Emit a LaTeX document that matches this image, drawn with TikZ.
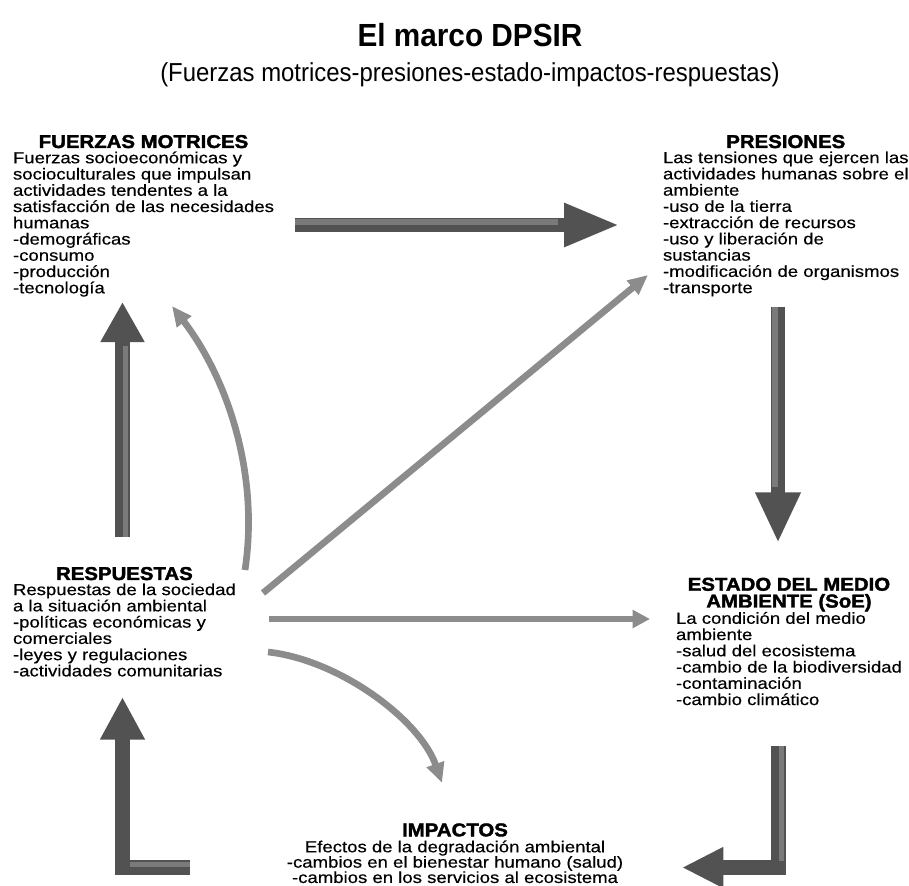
\documentclass[tikz,border=0pt]{standalone}
\usepackage{fontspec}
\setmainfont[FakeStretch=1.16,FakeBold=0.4]{Liberation Sans}
\newfontfamily\headfont[FakeStretch=1.1,FakeBold=2]{Liberation Sans Bold}
\newfontfamily\titlefont[FakeStretch=0.93]{Liberation Sans Bold}
\newfontfamily\subtitlefont[FakeStretch=0.92]{Liberation Sans}
\usetikzlibrary{arrows.meta,calc,positioning}
\lineskiplimit=-20pt

\begin{document}
\begin{tikzpicture}[
    x=0.75pt, y=-0.75pt,
    every node/.style={inner sep=0pt, outer sep=0pt},
    body/.style={align=left, font=\fontsize{12}{12.19}\selectfont},
    head/.style={align=center, font=\headfont\fontsize{13.9}{12.6}\selectfont},
    big arrow/.style={draw=black!68, line width=11pt, line join=miter},
    shine/.style={draw=black!52, line width=4pt},
    thin arrow/.style={draw=black!45, line width=5pt, -{Triangle[length=15pt,width=13pt]}},
  ]
  \useasboundingbox (0,0) rectangle (909,885);

  \node [anchor=base, font=\titlefont\fontsize{24}{24}\selectfont] (titulo) at (470,46) {El marco DPSIR};
  \node [anchor=base, font=\subtitlefont\fontsize{19.5}{19.5}\selectfont] (subtitulo) at (470,81) {(Fuerzas motrices-presiones-estado-impactos-respuestas)};

  \node [body, anchor=north west] (fuerzas) at (13,151.5) {Fuerzas socioeconómicas y\\socioculturales que impulsan\\actividades tendentes a la\\satisfacción de las necesidades\\humanas\\-demográficas\\-consumo\\-producción\\-tecnología};
  \node [head, above=2.5pt of fuerzas] (fuerzas-t) {FUERZAS MOTRICES};

  \node [body, anchor=north west] (presiones) at (663,151.5) {Las tensiones que ejercen las\\actividades humanas sobre el\\ambiente\\-uso de la tierra\\-extracción de recursos\\-uso y liberación de\\sustancias\\-modificación de organismos\\-transporte};
  \node [head, above=2.5pt of presiones] (presiones-t) {PRESIONES};

  \node [body, anchor=north west] (estado) at (676,612) {La condición del medio\\ambiente\\-salud del ecosistema\\-cambio de la biodiversidad\\-contaminación\\-cambio climático};
  \node [head, above=0.5pt of estado] (estado-t) {ESTADO DEL MEDIO\\AMBIENTE (SoE)};

  \node [body, anchor=north west] (respuestas) at (13,583.5) {Respuestas de la sociedad\\a la situación ambiental\\-políticas económicas y\\comerciales\\-leyes y regulaciones\\-actividades comunitarias};
  \node [head, above=2.5pt of respuestas] (respuestas-t) {RESPUESTAS};

  \node [body, align=center, anchor=north, font=\fontsize{12}{11.5}\selectfont] (impactos) at (455,840.5) {Efectos de la degradación ambiental\\-cambios en el bienestar humano (salud)\\-cambios en los servicios al ecosistema};
  \node [head, above=3pt of impactos] (impactos-t) {IMPACTOS};

  \coordinate (fp-a) at (295,225);
  \coordinate (fp-b) at (620,225);
  \coordinate (pe-a) at (778,307);
  \coordinate (pe-b) at (778,543);
  \coordinate (ei-a) at (778.5,746);
  \coordinate (ei-b) at (682,867.5);
  \coordinate (ir-a) at (190,867.5);
  \coordinate (ir-b) at (122.5,697);
  \coordinate (rf-a) at (122.5,537);
  \coordinate (rf-b) at (122.5,302);
  \coordinate (rc-a) at (245,570);
  \coordinate (rc-b) at (172,306);
  \coordinate (rp-a) at (263,593);
  \coordinate (rp-b) at (648,275);
  \coordinate (re-a) at (269,619);
  \coordinate (re-b) at (650,619);
  \coordinate (ri-a) at (268,652);
  \coordinate (ri-b) at (442,783);

  \draw [big arrow, -{Triangle[length=42pt,width=30pt]}] (fp-a) -- (fp-b);
  \draw [shine] ($(fp-a)+(0,-3)$) -- ($(fp-b)+(-62,-3)$);
  \draw [big arrow, -{Triangle[length=38pt,width=31.5pt]}] (pe-a) -- (pe-b);
  \draw [shine] ($(pe-a)+(-3,0)$) -- ($(pe-b)+(-3,-56)$);
  \draw [big arrow, -{Triangle[length=31pt,width=28.5pt]}] (ei-a) |- (ei-b);
  \draw [shine] ($(ei-a)+(3,0)$) -- ($(ei-a)+(3,115)$);
  \draw [big arrow, -{Triangle[length=32pt,width=31.5pt]}] (ir-a) -| (ir-b);
  \draw [shine] ($(ir-a)+(0,-3)$) -- ($(ir-a)+(-60,-3)$);
  \draw [big arrow, -{Triangle[length=30pt,width=31pt]}] (rf-a) -- (rf-b);
  \draw [shine] ($(rf-a)+(3,0)$) -- ($(rf-b)+(3,44)$);

  \draw [thin arrow] (rc-a) .. controls (260,470) and (225,375) .. (rc-b);
  \draw [thin arrow] (rp-a) -- (rp-b);
  \draw [thin arrow, -{Triangle[length=13pt,width=13pt]}] (re-a) -- (re-b);
  \draw [thin arrow] (ri-a) .. controls (340,660) and (420,720) .. (ri-b);
\end{tikzpicture}
\end{document}
